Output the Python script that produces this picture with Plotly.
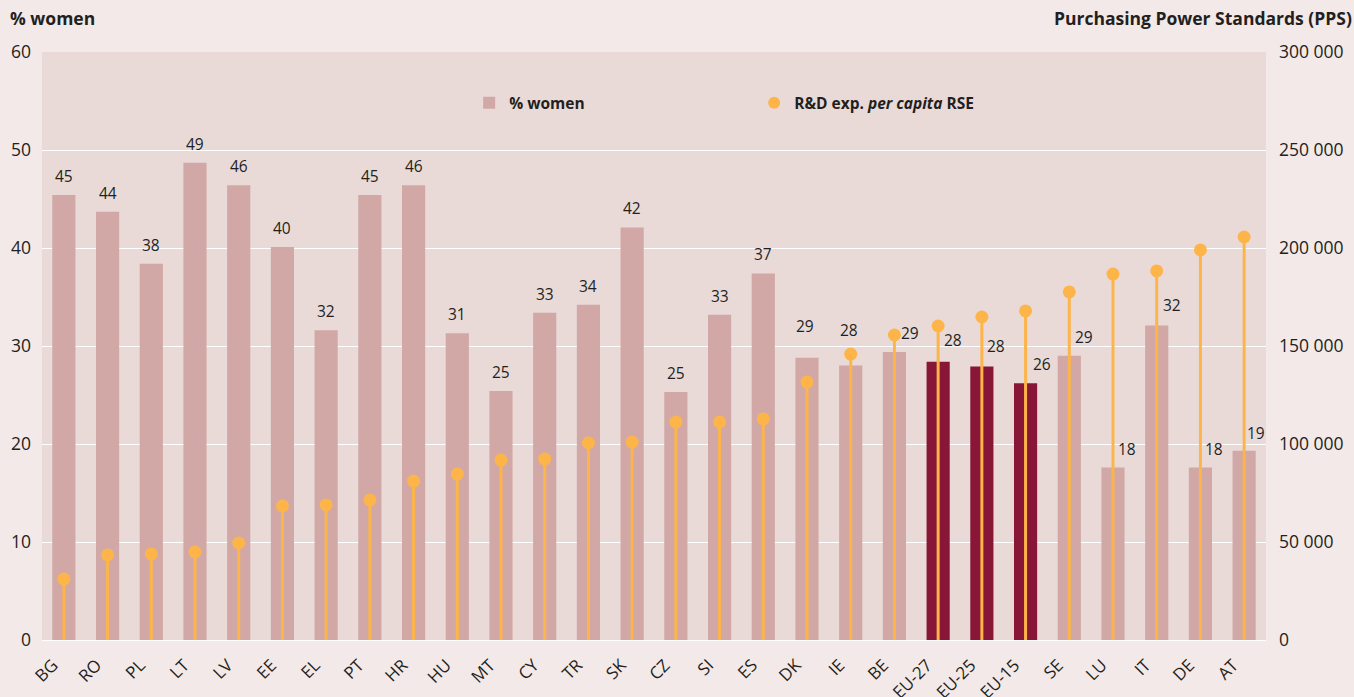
import plotly.graph_objects as go

# Countries / aggregates, ordered by R&D expenditure per researcher
categories = ["BG", "RO", "PL", "LT", "LV", "EE", "EL", "PT", "HR", "HU", "MT",
              "CY", "TR", "SK", "CZ", "SI", "ES", "DK", "IE", "BE", "EU-27",
              "EU-25", "EU-15", "SE", "LU", "IT", "DE", "AT"]

# Share of women among researchers (%)
women_pct = [45.4, 43.7, 38.4, 48.7, 46.4, 40.1, 31.6, 45.4, 46.4, 31.3, 25.4,
             33.4, 34.2, 42.1, 25.3, 33.2, 37.4, 28.8, 28.0, 29.4, 28.4,
             27.9, 26.2, 29.0, 17.6, 32.1, 17.6, 19.3]

# R&D expenditure per capita researcher (PPS)
rd_exp = [31100, 43400, 43900, 44900, 49500, 68400, 68900, 71400, 81100, 84700,
          91800, 92300, 100500, 101000, 111200, 111200, 112800, 131600, 145900,
          155600, 160200, 164800, 167900, 177600, 186700, 188300, 199000, 205600]

aggregates = {"EU-27", "EU-25", "EU-15"}

PAPER = "#f3e9e8"
PLOT_BG = "#e9dad8"
BAR = "#d1a8a6"
BAR_EU = "#881636"
ORANGE = "#fdb54a"
TEXT = "#231f20"
FONT = "Open Sans"

bar_colors = [BAR_EU if c in aggregates else BAR for c in categories]

fig = go.Figure()

fig.add_trace(go.Bar(
    x=categories, y=women_pct, marker=dict(color=bar_colors, line=dict(width=0)),
    name="<b>% women</b>", showlegend=True, yaxis="y",
))

# lollipops: dot at the value, stem drawn down to zero as a one-sided error bar
fig.add_trace(go.Scatter(
    x=categories, y=rd_exp, mode="markers",
    marker=dict(color=ORANGE, size=13),
    error_y=dict(type="data", symmetric=False, array=[0] * len(rd_exp),
                 arrayminus=rd_exp, color=ORANGE, thickness=3, width=0),
    name="<b>R&D exp. <i>per capita</i> RSE</b>", yaxis="y2",
))

# value labels above the bars; some nudged clear of the stems
nudge = {
    "DK": (-2, 13), "IE": (-2, 17), "BE": (16, 0), "EU-27": (15, 3),
    "EU-25": (14, 2), "EU-15": (16, 0), "SE": (15, 0), "LU": (14, 0),
    "IT": (15, 1), "DE": (14, 0), "AT": (12, -1),
}
for c, v in zip(categories, women_pct):
    dx, dy = nudge.get(c, (0, 0))
    fig.add_annotation(
        x=c, y=v, xref="x", yref="y", text=f"{round(v)}", showarrow=False,
        yanchor="bottom", xshift=dx, yshift=6 + dy,
        font=dict(family=FONT, size=15.5, color=TEXT),
    )

# axis titles
fig.add_annotation(x=0, y=1, xref="paper", yref="paper", xanchor="left",
                   yanchor="middle", text="<b>% women</b>", showarrow=False,
                   xshift=-34, yshift=34,
                   font=dict(family=FONT, size=17.5, color=TEXT))
fig.add_annotation(x=1, y=1, xref="paper", yref="paper", xanchor="right",
                   yanchor="middle", text="<b>Purchasing Power Standards (PPS)</b>",
                   showarrow=False, xshift=88, yshift=34,
                   font=dict(family=FONT, size=17.5, color=TEXT))

fig.update_layout(
    width=1354, height=697,
    margin=dict(l=42, r=88, t=52, b=57),
    paper_bgcolor=PAPER, plot_bgcolor=PLOT_BG,
    separators=", ",
    font=dict(family=FONT, color=TEXT),
    bargap=0.47, barmode="overlay",
    xaxis=dict(
        type="category", tickangle=-45, showgrid=False, showline=False,
        range=[-0.5, len(categories) - 0.5],
        tickfont=dict(size=17, color=TEXT), ticks="", automargin=False,
        ticklabelstandoff=11, ticklabelshift=-11,
    ),
    yaxis=dict(
        range=[0, 60], dtick=10, showgrid=True, gridcolor="white", gridwidth=1.3,
        zeroline=True, zerolinecolor="white", zerolinewidth=1.3,
        tickfont=dict(size=17.5, color=TEXT), ticklabelstandoff=10,
        automargin=False,
    ),
    yaxis2=dict(
        range=[0, 300000], dtick=50000, overlaying="y", side="right",
        showgrid=False, zeroline=False, tickformat=",d",
        tickfont=dict(size=17.5, color=TEXT), ticklabelstandoff=12,
        automargin=False,
    ),
    legend=dict(
        orientation="h", x=0.349, y=0.913, xanchor="left", yanchor="middle",
        bgcolor="rgba(0,0,0,0)", font=dict(family=FONT, size=15.5, color=TEXT),
        entrywidth=240, entrywidthmode="pixels", itemsizing="constant",
    ),
    showlegend=True,
)

fig.write_html("out.html")
